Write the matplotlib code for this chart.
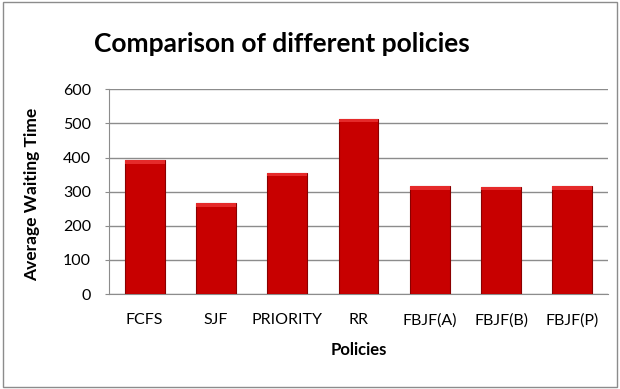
import matplotlib
matplotlib.use("Agg")
import matplotlib.pyplot as plt
from matplotlib.patches import Rectangle

plt.rcParams['font.family'] = ['Lato', 'DejaVu Sans']

# policies and their average waiting time
policies = ["FCFS", "SJF", "PRIORITY", "RR", "FBJF(A)", "FBJF(B)", "FBJF(P)"]
avg_wait = [392, 266, 355, 514, 316, 314, 316]
y_ticks = [0, 100, 200, 300, 400, 500, 600]

fig = plt.figure(figsize=(6.2, 3.89), dpi=100)
ax = fig.add_axes([109/620, 1 - 294/389, (608-109)/620, (294-89.3)/389])

x = range(len(policies))
ax.bar(x, avg_wait, width=0.56, color="#C80000", edgecolor="#8a0000", linewidth=0.8, zorder=3)
# lighter top bevel on each bar
for i, v in enumerate(avg_wait):
	ax.add_patch(Rectangle((i - 0.28, v - 10), 0.56, 10, color="#e52a2a", zorder=4, linewidth=0))

ax.set_xlim(-0.5, len(policies) - 0.5)
ax.set_ylim(0, 600)
ax.set_yticks(y_ticks)
ax.set_xticks(list(x))
ax.set_xticklabels(policies)
ax.yaxis.grid(True, color="#8c8c8c", linewidth=1)
ax.set_axisbelow(True)
for s in ["top", "right"]:
	ax.spines[s].set_visible(False)
ax.spines["left"].set_color("#8c8c8c")
ax.spines["bottom"].set_color("#8c8c8c")
ax.tick_params(axis="x", length=0, pad=14, labelsize=11.5)
ax.tick_params(axis="y", length=3, color="#8c8c8c", labelsize=11.5, pad=10)

ax.set_xlabel("Policies", fontsize=12, fontweight="bold", labelpad=10)
ax.set_ylabel("Average Waiting Time", fontsize=12.5, fontweight="bold", labelpad=8)
ax.yaxis.set_label_coords(40/620, 0.5, transform=fig.transFigure)
fig.text(282/620, 1 - 44/389, "Comparison of different policies", ha="center", va="center",
	fontsize=19, fontweight="bold")

fig.patches.append(Rectangle((0.005, 0.005), 0.99, 0.99, transform=fig.transFigure,
	fill=False, edgecolor="#8c8c8c", linewidth=1))

fig.savefig("out.png", dpi=100)
